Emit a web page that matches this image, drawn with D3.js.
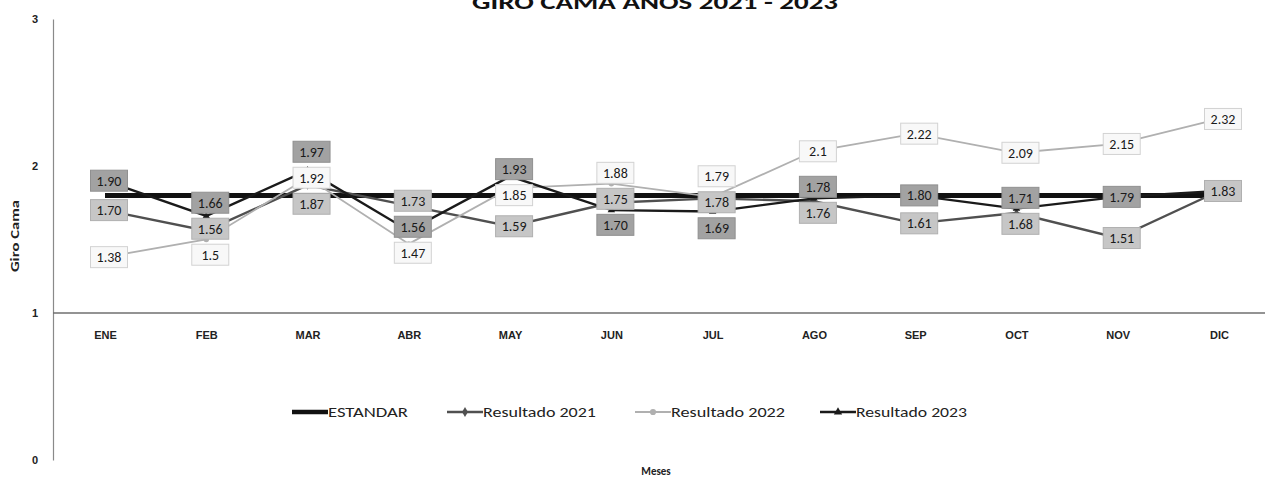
<!DOCTYPE html>
<html><head><meta charset="utf-8">
<script src="https://cdn.jsdelivr.net/npm/d3@7"></script>
<style>
html,body{margin:0;padding:0;background:#fff;}
svg{display:block;font-family:Carlito,"Liberation Sans Narrow","DejaVu Sans Condensed","Open Sans",sans-serif;}
</style></head>
<body>
<svg id="c" width="1265" height="479"></svg>
<script>
const months = ["ENE","FEB","MAR","ABR","MAY","JUN","JUL","AGO","SEP","OCT","NOV","DIC"];
const estandar = [1.8,1.8,1.8,1.8,1.8,1.8,1.8,1.8,1.8,1.8,1.8,1.8];
const res2021 = [1.70,1.56,1.87,1.73,1.59,1.75,1.78,1.76,1.61,1.68,1.51,1.83];
const res2022 = [1.38,1.5,1.92,1.47,1.85,1.88,1.79,2.1,2.22,2.09,2.15,2.32];
const res2023 = [1.90,1.66,1.97,1.56,1.93,1.70,1.69,1.78,1.80,1.71,1.79,1.83];
const label2021 = ["1.70","1.56","1.87","1.73","1.59","1.75","1.78","1.76","1.61","1.68","1.51","1.83"];
const label2022 = ["1.38","1.5","1.92","1.47","1.85","1.88","1.79","2.1","2.22","2.09","2.15","2.32"];
const label2023 = ["1.90","1.66","1.97","1.56","1.93","1.70","1.69","1.78","1.80","1.71","1.79","1.83"];
const yTicks = [0,1,2,3];
const seriesNames = ["ESTANDAR","Resultado 2021","Resultado 2022","Resultado 2023"];
const titleText = "GIRO CAMA AÑOS 2021 - 2023";

const svg = d3.select("#c");
const x = d3.scalePoint().domain(months).range([105,1219]);
const y = d3.scaleLinear().domain([0,3]).range([460,19]);

// title (clipped at top as in the reference)
svg.append("text").attr("x",655).attr("y",9).attr("text-anchor","middle")
  .attr("font-size",21).attr("font-weight","bold").attr("fill","#111")
  .attr("textLength",366).attr("lengthAdjust","spacingAndGlyphs").text(titleText);

// y axis
const yAxis = d3.axisLeft(y).tickValues(yTicks).tickSize(0).tickPadding(15).tickFormat(d3.format("d"));
const gy = svg.append("g").attr("transform","translate(53,0)").call(yAxis);
gy.select(".domain").attr("stroke","#8a8a8a").attr("stroke-width",1.2);
gy.selectAll("text").attr("font-size",11).attr("font-weight","bold").attr("fill","#222").attr("font-family","inherit");

// x axis at value 1
const xAxis = d3.axisBottom(x).tickSize(0).tickPadding(18);
const gx = svg.append("g").attr("transform",`translate(0,${y(1)})`).call(xAxis);
gx.select(".domain").attr("d",`M53,0H1265`).attr("stroke","#6f6f6f").attr("stroke-width",1.3);
gx.selectAll("text").attr("font-size",11).attr("fill","#222").attr("font-family","inherit").attr("font-weight","bold");

// axis titles
svg.append("text").attr("transform","translate(19,236) rotate(-90)").attr("text-anchor","middle")
  .attr("font-size",12).attr("font-weight","bold").attr("fill","#222")
  .attr("textLength",72).attr("lengthAdjust","spacingAndGlyphs").text("Giro Cama");
svg.append("text").attr("x",656).attr("y",475).attr("text-anchor","middle")
  .attr("font-size",11).attr("font-weight","bold").attr("fill","#222").text("Meses");

const line = d3.line().x((d,i)=>x(months[i])).y(d=>y(d));
const styles = [
  {data:estandar, stroke:"#111", w:5},
  {data:res2021, stroke:"#505050", w:2.4, marker:"diamond", labels:label2021, fill:"#c6c6c6", border:"#b0b0b0"},
  {data:res2022, stroke:"#b0b0b0", w:1.8, marker:"circle", labels:label2022, fill:"#f8f8f8", border:"#d2d2d2"},
  {data:res2023, stroke:"#1a1a1a", w:2.4, marker:"triangle", labels:label2023, fill:"#a2a2a2", border:"#909090"}
];
const plot = svg.append("g");
styles.forEach(s=>{
  plot.append("path").datum(s.data).attr("d",line).attr("fill","none")
    .attr("stroke",s.stroke).attr("stroke-width",s.w);
});
const symType = {diamond:d3.symbolDiamond, circle:d3.symbolCircle, triangle:d3.symbolTriangle};
styles.forEach(s=>{
  if(!s.marker) return;
  plot.selectAll(null).data(s.data).join("path")
    .attr("transform",(d,i)=>`translate(${x(months[i])},${y(d)})`)
    .attr("d",d3.symbol().type(symType[s.marker]).size(24)).attr("fill",s.stroke);
});

// data labels with simple vertical collision avoidance per month
const boxH = 21, boxW = 37, gap = 26;
const labels = [];
months.forEach((m,i)=>{
  const group = [1,2,3].map(k=>({k, val:styles[k].data[i], text:styles[k].labels[i], py:y(styles[k].data[i])}));
  const uniq = [];
  group.forEach(g=>{ if(!uniq.some(u=>u.text===g.text && Math.abs(u.py-g.py)<1)) uniq.push(g); });
  uniq.sort((a,b)=>a.py-b.py);
  let clusters = uniq.map(u=>({items:[u], c:u.py}));
  let changed = true;
  while(changed){
    changed=false;
    for(let j=0;j<clusters.length-1;j++){
      const A=clusters[j], B=clusters[j+1];
      const aBot = A.c + (A.items.length-1)*gap/2, bTop = B.c - (B.items.length-1)*gap/2;
      if(bTop - aBot < gap){
        const items = A.items.concat(B.items);
        const c = d3.mean(items,d=>d.py);
        clusters.splice(j,2,{items,c}); changed=true; break;
      }
    }
  }
  clusters.forEach(cl=>{
    cl.items.forEach((it,n)=>{ it.ly = cl.c + (n-(cl.items.length-1)/2)*gap; it.lx = x(m)+4; labels.push(it); });
  });
});
const lg = plot.selectAll(null).data(labels).join("g").attr("transform",d=>`translate(${d.lx},${d.ly})`);
lg.append("rect").attr("x",-boxW/2).attr("y",-boxH/2).attr("width",boxW).attr("height",boxH)
  .attr("fill",d=>styles[d.k].fill).attr("stroke",d=>styles[d.k].border).attr("stroke-width",1);
lg.append("text").attr("text-anchor","middle").attr("dy","0.36em").attr("font-size",14)
  .attr("fill","#1a1a1a").text(d=>d.text);

// legend
const legX = [292,447,635,820];
const legW = [80,113,114,111];
const leg = svg.append("g").attr("transform","translate(0,412)");
styles.forEach((s,k)=>{
  const gx0 = legX[k];
  leg.append("line").attr("x1",gx0).attr("x2",gx0+36).attr("y1",0).attr("y2",0)
    .attr("stroke",s.stroke).attr("stroke-width",k===0?4.5:s.w);
  if(s.marker) leg.append("path").attr("transform",`translate(${gx0+18},0)`)
    .attr("d",d3.symbol().type(symType[s.marker]).size(30)).attr("fill",s.stroke);
  leg.append("text").attr("x",gx0+36).attr("y",0).attr("dy","0.36em").attr("font-size",15)
    .attr("fill","#222").attr("textLength",legW[k]).attr("lengthAdjust","spacingAndGlyphs").text(seriesNames[k]);
});
</script>
</body></html>
